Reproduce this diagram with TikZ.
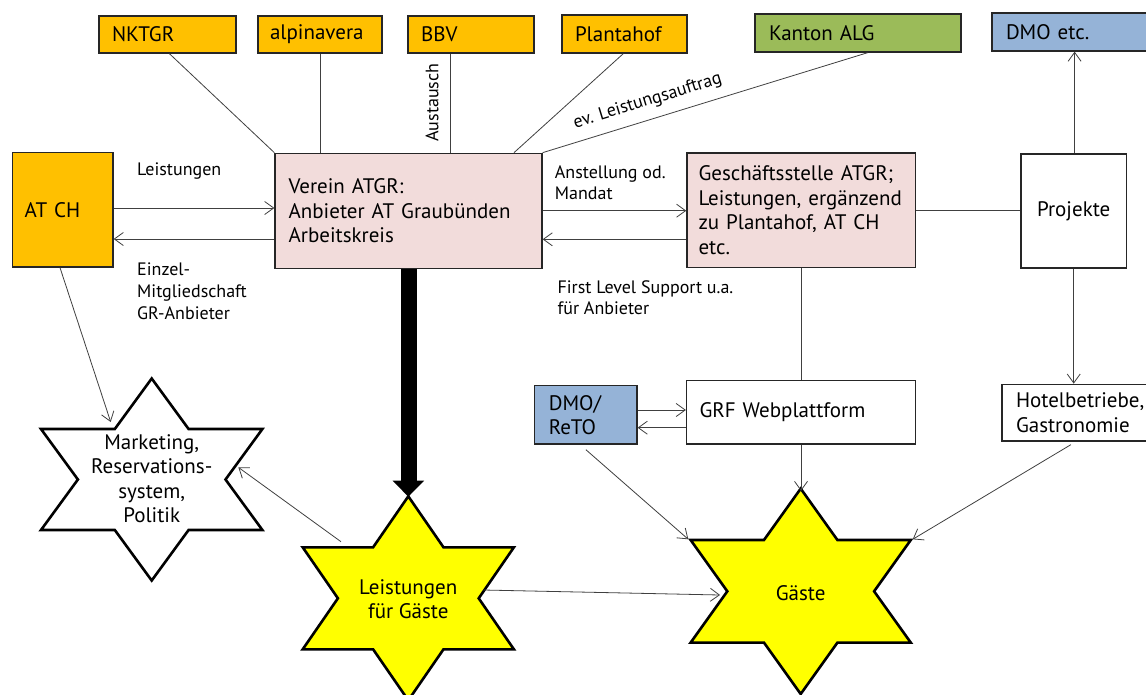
\documentclass[tikz,border=0pt]{standalone}
\usepackage{fontspec}
\setmainfont{PT Sans}
\usetikzlibrary{arrows.meta,calc}
\definecolor{orangebox}{HTML}{FFC000}
\definecolor{greenbox}{HTML}{9BBB59}
\definecolor{bluebox}{HTML}{95B3D7}
\definecolor{pinkbox}{HTML}{F2DCDB}
\definecolor{staryellow}{HTML}{FFFF00}
\definecolor{linegray}{HTML}{404040}
\definecolor{boxline}{HTML}{262626}
\newcommand\boxfont{\fontsize{21}{24.5}\selectfont}
\newcommand\lblfont{\fontsize{18}{22}\selectfont}
\newcommand\starfont{\fontsize{21}{24.5}\selectfont}
\newcommand\hexstar[5]{%
  \begin{scope}[shift={(#1,#2)}]
    \draw[starline,fill=#5] (0,{-#3}) -- ({#4},{-#3/2}) -- ({3*#4},{-#3/2}) -- ({2*#4},0)
      -- ({3*#4},{#3/2}) -- ({#4},{#3/2}) -- (0,{#3}) -- ({-#4},{#3/2}) -- ({-3*#4},{#3/2})
      -- ({-2*#4},0) -- ({-3*#4},{-#3/2}) -- ({-#4},{-#3/2}) -- cycle;
  \end{scope}}
\tikzset{
  box/.style={draw=boxline, line width=1.3pt, inner ysep=0pt, align=left, font=\boxfont},
  lbl/.style={inner sep=0pt, align=left, font=\lblfont},
  conn/.style={draw=linegray, line width=0.8pt},
  arr/.style={conn, -{Straight Barb[length=9pt,width=13pt]}},
  starline/.style={draw=black, line width=2.6pt, line join=miter},
  startext/.style={inner sep=0pt, align=center, font=\starfont},
}
\begin{document}
\begin{tikzpicture}[x=1pt,y=-1pt]
\useasboundingbox (0,0) rectangle (1146,694);
\clip (0,0) rectangle (1146,694);
\fill[white] (0,0) rectangle (1146,694);

% top boxes
\node[box, fill=orangebox, minimum width=137pt, minimum height=37pt, inner xsep=13pt, text width=111pt] (nktgr) at (167.5,34.5) {NKTGR};
\node[box, fill=orangebox, minimum width=124pt, minimum height=37pt, inner xsep=12pt, text width=100pt] (alpina) at (320,34.5) {alpinavera};
\node[box, fill=orangebox, minimum width=126pt, minimum height=37pt, inner xsep=13pt, text width=100pt] (bbv) at (471,34.5) {BBV};
\node[box, fill=orangebox, minimum width=125pt, minimum height=38pt, inner xsep=13pt, text width=99pt] (plantahof) at (624.5,34) {Plantahof};
\node[box, fill=greenbox, minimum width=206pt, minimum height=38pt, inner xsep=14pt, text width=178pt] (kanton) at (858,33) {Kanton ALG};
\node[box, fill=bluebox, minimum width=174pt, minimum height=38pt, inner xsep=14pt, text width=146pt] (dmoetc) at (1079,32) {DMO etc.};

% middle row
\node[box, fill=orangebox, minimum width=100.3pt, minimum height=114.3pt, inner xsep=12pt, text width=76.3pt] (atch) at (62.85,209.85) {AT CH};
\node[box, fill=pinkbox, minimum width=267pt, minimum height=115pt, inner xsep=13.6pt, text width=239.8pt] (verein) at (408.5,210.8)
  {\mbox{Verein ATGR:}\\\mbox{Anbieter AT Graubünden}\\Arbeitskreis};
\node[box, fill=pinkbox, minimum width=228.8pt, minimum height=114.3pt, inner xsep=11.6pt, text width=205.6pt] (gesch) at (801.3,210.2)
  {\mbox{Geschäftsstelle ATGR;}\\\mbox{Leistungen, ergänzend}\\\mbox{zu Plantahof, AT CH}\\etc.};
\node[box, fill=white, minimum width=105.4pt, minimum height=114pt, inner xsep=10pt, text width=85.4pt, align=center] (projekte) at (1073.7,211) {Projekte};

% lower row
\node[box, fill=bluebox, minimum width=102.2pt, minimum height=58.3pt, inner xsep=14pt, text width=74.2pt] (dmoreto) at (585.9,414.9) {DMO/\\ReTO};
\node[box, fill=white, minimum width=228.7pt, minimum height=63.3pt, inner xsep=13pt, text width=202.7pt] (grf) at (800.85,412.35) {\mbox{GRF Webplattform}};
\node[box, fill=white, minimum width=158pt, minimum height=56.7pt, inner xsep=14pt, text width=130pt] (hotel) at (1081,412.65) {\mbox{Hotelbetriebe,}\\Gastronomie};

% stars
\hexstar{151.7}{479.5}{101}{36.9}{white}
\hexstar{408.3}{598.3}{102}{35.2}{staryellow}
\hexstar{800.7}{591.3}{102.7}{36.7}{staryellow}
\node[startext] (marketing) at (151.7,478.9) {Marketing,\\Reservations-\\system,\\Politik};
\node[startext] (leistgast) at (408.3,599.2) {Leistungen\\für Gäste};
\node[startext] (gaeste) at (800.7,592.7) {Gäste};

% star reference points
\coordinate (s1in) at (110.7,422);
\coordinate (s1right) at (238.3,467.3);
\coordinate (s2top) at (408.3,496.7);
\coordinate (s2ul) at (341,541.7);
\coordinate (s2right) at (483.3,590);
\coordinate (s3left) at (720,595);
\coordinate (s3ul) at (688.3,539.3);
\coordinate (s3ur) at (912.7,539.3);
\coordinate (s3top) at (801,491);
\coordinate (headbase) at (408.5,481);

% connectors top
\draw[conn] (nktgr.south -| 169.4,0) -- (verein.north west);
\draw[conn] (alpina.south) -- (alpina.south |- verein.north);
\draw[conn] (bbv.south -| 450,0) -- (verein.north -| 450,0);
\draw[conn] (plantahof.south -| 623.3,0) -- (verein.north -| 514,0);
\draw[conn] (kanton.south -| 867.7,0) -- (verein.north east);
\draw[arr] (projekte.north -| 1074.6,0) -- (dmoetc.south -| 1074.6,0);

% middle connectors
\draw[arr] (atch.east |- 0,208) -- (verein.west |- 0,208);
\draw[arr] (verein.west |- 0,239) -- (atch.east |- 0,239);
\draw[arr] (verein.east |- 0,210.7) -- (gesch.west |- 0,210.7);
\draw[arr] (gesch.west |- 0,239.3) -- (verein.east |- 0,239.3);
\draw[conn] (gesch.east |- 0,210.7) -- (projekte.west |- 0,210.7);
\draw[conn] (gesch.south -| 801.7,0) -- (grf.north -| 801.7,0);
\draw[arr] (projekte.south -| 1073.7,0) -- (hotel.north -| 1073.7,0);
\draw[arr] (dmoreto.east |- 0,410) -- (grf.west |- 0,410);
\draw[arr] (grf.west |- 0,427.7) -- (dmoreto.east |- 0,427.7);

% to stars
\draw[arr] (atch.south -| 60,0) -- (s1in);
\draw[arr] (s2ul) -- (s1right);
\draw[arr] (s2right) -- (s3left);
\draw[arr] (dmoreto.south -| 585.9,0) ++(0,5) -- (s3ul);
\draw[arr] (hotel.south -| 1070.9,0) ++(0,3) -- (s3ur);
\draw[arr] (grf.south -| 801,0) -- (s3top);

% thick arrow
\draw[black, line width=16pt] (verein.south) -- (headbase);
\fill[black] (392.7,480.7) -- (424.2,480.7) -- (s2top) -- cycle;

% labels
\node[lbl, anchor=west] (lleist) at (137,171) {Leistungen};
\node[lbl, anchor=west] (leinzel) at (137,291) {Einzel-\\Mitgliedschaft\\GR-Anbieter};
\node[lbl, anchor=west, font=\fontsize{18}{21}\selectfont] (lanst) at (554.7,182.8) {Anstellung od.\\Mandat};
\node[lbl, anchor=west, font=\fontsize{18}{21.6}\selectfont] (lfirst) at (557.4,297.5) {First Level Support u.a.\\für Anbieter};
\node[lbl, rotate=90] (laus) at (432,102.5) {Austausch};
\node[lbl, rotate=17.1, anchor=base] (lev) at (649,105.5) {ev. Leistungsauftrag};
\end{tikzpicture}
\end{document}
